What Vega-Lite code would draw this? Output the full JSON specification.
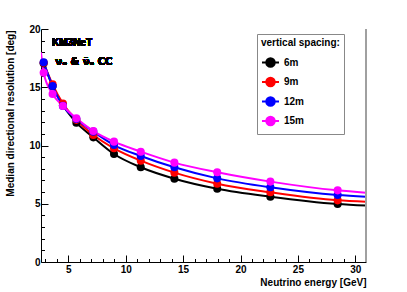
{
  "$schema": "https://vega.github.io/schema/vega-lite/v6.json",
  "width": 325,
  "height": 233,
  "autosize": {"type": "none"},
  "padding": {"left": 41, "top": 29, "right": 41, "bottom": 30},
  "background": "white",
  "config": {
    "view": {"stroke": null},
    "font": "Liberation Sans",
    "axis": {
      "labelFont": "Liberation Sans", "labelFontWeight": "bold", "labelFontSize": 10, "labelColor": "black",
      "titleFont": "Liberation Sans", "titleFontWeight": "bold", "titleFontSize": 10, "titleColor": "black",
      "domainColor": "black", "domainWidth": 1, "tickColor": "black", "tickWidth": 1, "grid": false
    }
  },
  "data": {"values": [
    {"E": 2.85, "res": 17.05, "spacing": "6m", "pt": 1},
    {"E": 3.63, "res": 15.1, "spacing": "6m", "pt": 1},
    {"E": 4.53, "res": 13.45, "spacing": "6m", "pt": 1},
    {"E": 5.70, "res": 11.96, "spacing": "6m", "pt": 1},
    {"E": 7.18, "res": 10.7, "spacing": "6m", "pt": 1},
    {"E": 8.98, "res": 9.27, "spacing": "6m", "pt": 1},
    {"E": 11.31, "res": 8.13, "spacing": "6m", "pt": 1},
    {"E": 14.24, "res": 7.15, "spacing": "6m", "pt": 1},
    {"E": 17.97, "res": 6.29, "spacing": "6m", "pt": 1},
    {"E": 22.6, "res": 5.61, "spacing": "6m", "pt": 1},
    {"E": 28.46, "res": 4.98, "spacing": "6m", "pt": 1},
    {"E": 30.93, "res": 4.84, "spacing": "6m", "pt": 0},
    {"E": 2.85, "res": 17.1, "spacing": "9m", "pt": 1},
    {"E": 3.63, "res": 15.25, "spacing": "9m", "pt": 1},
    {"E": 4.53, "res": 13.6, "spacing": "9m", "pt": 1},
    {"E": 5.70, "res": 12.2, "spacing": "9m", "pt": 1},
    {"E": 7.18, "res": 10.9, "spacing": "9m", "pt": 1},
    {"E": 8.98, "res": 9.76, "spacing": "9m", "pt": 1},
    {"E": 11.31, "res": 8.7, "spacing": "9m", "pt": 1},
    {"E": 14.24, "res": 7.67, "spacing": "9m", "pt": 1},
    {"E": 17.97, "res": 6.72, "spacing": "9m", "pt": 1},
    {"E": 22.6, "res": 5.98, "spacing": "9m", "pt": 1},
    {"E": 28.46, "res": 5.29, "spacing": "9m", "pt": 1},
    {"E": 30.93, "res": 5.18, "spacing": "9m", "pt": 0},
    {"E": 2.85, "res": 17.14, "spacing": "12m", "pt": 1},
    {"E": 3.63, "res": 15.1, "spacing": "12m", "pt": 1},
    {"E": 4.53, "res": 13.4, "spacing": "12m", "pt": 1},
    {"E": 5.70, "res": 12.27, "spacing": "12m", "pt": 1},
    {"E": 7.18, "res": 11.19, "spacing": "12m", "pt": 1},
    {"E": 8.98, "res": 10.04, "spacing": "12m", "pt": 1},
    {"E": 11.31, "res": 9.1, "spacing": "12m", "pt": 1},
    {"E": 14.24, "res": 8.13, "spacing": "12m", "pt": 1},
    {"E": 17.97, "res": 7.18, "spacing": "12m", "pt": 1},
    {"E": 22.6, "res": 6.41, "spacing": "12m", "pt": 1},
    {"E": 28.46, "res": 5.75, "spacing": "12m", "pt": 1},
    {"E": 30.93, "res": 5.61, "spacing": "12m", "pt": 0},
    {"E": 2.62, "res": 18.0, "spacing": "15m", "pt": 0},
    {"E": 2.85, "res": 16.25, "spacing": "15m", "pt": 1},
    {"E": 3.63, "res": 14.42, "spacing": "15m", "pt": 1},
    {"E": 4.53, "res": 13.39, "spacing": "15m", "pt": 1},
    {"E": 5.70, "res": 12.33, "spacing": "15m", "pt": 1},
    {"E": 7.18, "res": 11.24, "spacing": "15m", "pt": 1},
    {"E": 8.98, "res": 10.33, "spacing": "15m", "pt": 1},
    {"E": 11.31, "res": 9.47, "spacing": "15m", "pt": 1},
    {"E": 14.24, "res": 8.53, "spacing": "15m", "pt": 1},
    {"E": 17.97, "res": 7.7, "spacing": "15m", "pt": 1},
    {"E": 22.6, "res": 6.9, "spacing": "15m", "pt": 1},
    {"E": 28.46, "res": 6.15, "spacing": "15m", "pt": 1},
    {"E": 30.93, "res": 5.95, "spacing": "15m", "pt": 0}
  ]},
  "layer": [
    {
      "mark": {"type": "line", "strokeWidth": 2, "clip": true, "interpolate": "monotone"},
      "encoding": {
        "x": {"field": "E", "type": "quantitative",
          "scale": {"domain": [2.62, 30.93], "nice": false, "zero": false},
          "axis": {
            "title": "Neutrino energy [GeV]",
            "values": [3,4,5,6,7,8,9,10,11,12,13,14,15,16,17,18,19,20,21,22,23,24,25,26,27,28,29,30],
            "tickCount": 200,
            "format": "d",
            "labelExpr": "datum.value % 5 === 0 ? datum.label : ''",
            "labelOverlap": false, "labelBound": false, "labelFlush": false,
            "ticks": true,
            "tickSize": {"condition": {"test": "datum.value % 5 === 0", "value": -7}, "value": -3.5},
            "labelPadding": 9,
            "titleAnchor": "end", "titleAlign": "right", "titleX": 325, "titleY": 20, "titleBaseline": "middle"
          }},
        "y": {"field": "res", "type": "quantitative",
          "scale": {"domain": [0, 20], "nice": false, "zero": true},
          "axis": {
            "title": "Median directional resolution [deg]",
            "values": [0,1,2,3,4,5,6,7,8,9,10,11,12,13,14,15,16,17,18,19,20],
            "tickCount": 200,
            "format": "d",
            "labelExpr": "datum.value % 5 === 0 ? datum.label : ''",
            "labelOverlap": false, "labelBound": false, "labelFlush": false,
            "ticks": true,
            "tickSize": {"condition": {"test": "datum.value % 5 === 0", "value": -7}, "value": -3.5},
            "labelPadding": 8,
            "titleAngle": -90, "titleX": -31, "titleY": 1, "titleAlign": "right", "titleBaseline": "middle"
          }},
        "color": {"field": "spacing", "type": "nominal",
          "scale": {"domain": ["6m", "9m", "12m", "15m"], "range": ["#000000", "#ff0000", "#0000ff", "#ff00ff"]},
          "legend": {
            "title": "vertical spacing:\u2003\u2009",
            "orient": "none", "legendX": 216, "legendY": 5,
            "titleFont": "Liberation Sans", "titleFontWeight": "bold", "titleFontSize": 10, "titleColor": "black",
            "labelFont": "Liberation Sans", "labelFontWeight": "bold", "labelFontSize": 10, "labelColor": "black",
            "labelOffset": 4,
            "symbolType": "M-1,0L1,0M-0.5,0A0.5,0.5,0,1,0,0.5,0A0.5,0.5,0,1,0,-0.5,0Z",
            "symbolSize": 289,
            "symbolStrokeWidth": 2,
            "rowPadding": 1.5,
            "titlePadding": 5,
            "padding": 4,
            "strokeColor": "#888888",
            "fillColor": "white",
            "encode": {"symbols": {"update": {
              "fill": {"scale": "color", "field": "value"},
              "stroke": {"scale": "color", "field": "value"},
              "strokeWidth": {"value": 2},
              "opacity": {"value": 1}
            }}}
          }},
        "detail": {"field": "spacing"}
      }
    },
    {
      "transform": [{"filter": "datum.pt === 1"}],
      "mark": {"type": "point", "filled": true, "size": 65, "opacity": 1},
      "encoding": {
        "x": {"field": "E", "type": "quantitative"},
        "y": {"field": "res", "type": "quantitative"},
        "color": {"field": "spacing", "type": "nominal"}
      }
    },
    {
      "mark": {"type": "rule", "color": "#a0a0a0", "strokeWidth": 1.5},
      "encoding": {"x": {"datum": 30.93}}
    },
    {
      "mark": {"type": "text", "align": "left", "baseline": "middle", "font": "Liberation Sans", "fontWeight": "bold", "fontSize": 10, "color": "black"},
      "encoding": {"x": {"datum": 3.58}, "y": {"datum": 18.82}, "text": {"value": "KM3NeT"}}
    },
    {
      "mark": {"type": "text", "align": "left", "baseline": "middle", "font": "DejaVu Sans", "fontWeight": "bold", "fontSize": 10, "color": "black"},
      "encoding": {"x": {"datum": 3.87}, "y": {"datum": 17.14}, "text": {"value": "νₑ & ν̄ₑ CC"}}
    }
  ]
}
